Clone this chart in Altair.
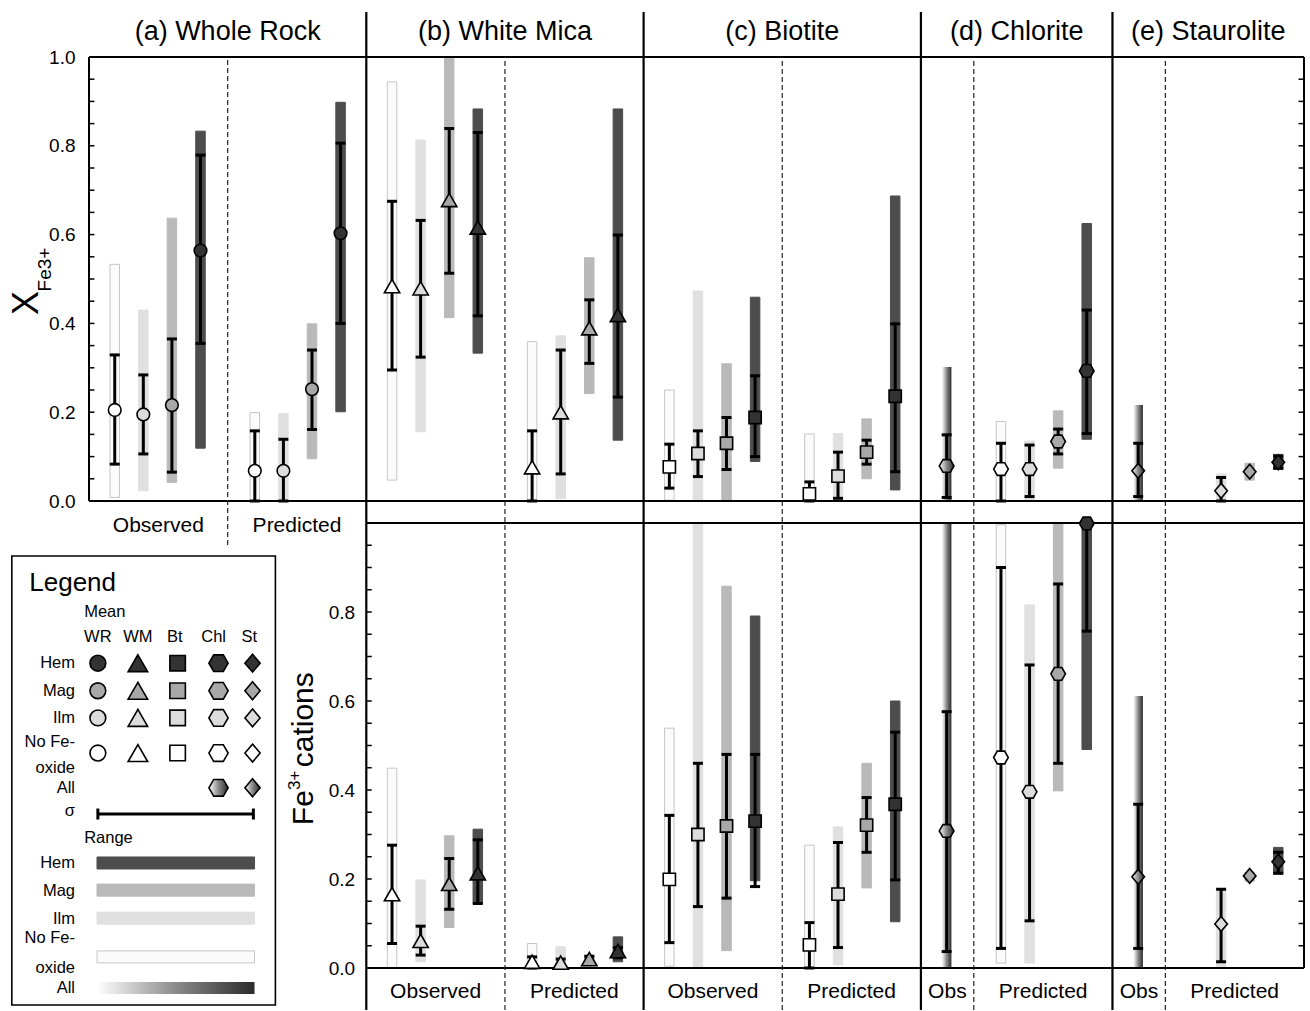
import altair as alt
import numpy as np
import pandas as pd

FONT = "Liberation Sans"

PANEL_TITLES = ["(a) Whole Rock", "(b) White Mica", "(c) Biotite", "(d) Chlorite", "(e) Staurolite"]
MINERALS = ["WR", "WM", "Bt", "Chl", "St"]
OXIDES = ["No Fe-oxide", "Ilm", "Mag", "Hem"]
OBS_NAMES = {"WR": "Observed", "WM": "Observed", "Bt": "Observed", "Chl": "Obs", "St": "Obs"}

# rows: (Fe-oxide assemblage, mean, mean - sigma, mean + sigma, range min, range max)
# ---- X_Fe3+ ----
WR_XFE_OBS = [
    ("No Fe-oxide", 0.205, 0.083, 0.329, 0.008, 0.533),
    ("Ilm", 0.195, 0.106, 0.284, 0.023, 0.430),
    ("Mag", 0.216, 0.065, 0.365, 0.042, 0.637),
    ("Hem", 0.564, 0.355, 0.779, 0.119, 0.833),
]
WR_XFE_PRED = [
    ("No Fe-oxide", 0.068, 0.0, 0.158, 0.0, 0.199),
    ("Ilm", 0.068, 0.0, 0.139, 0.0, 0.197),
    ("Mag", 0.252, 0.161, 0.340, 0.095, 0.399),
    ("Hem", 0.603, 0.400, 0.806, 0.201, 0.898),
]
WM_XFE_OBS = [
    ("No Fe-oxide", 0.484, 0.295, 0.675, 0.047, 0.944),
    ("Ilm", 0.479, 0.324, 0.632, 0.156, 0.813),
    ("Mag", 0.678, 0.513, 0.839, 0.413, 0.997),
    ("Hem", 0.616, 0.417, 0.830, 0.333, 0.883),
]
WM_XFE_PRED = [
    ("No Fe-oxide", 0.076, 0.0, 0.158, 0.0, 0.359),
    ("Ilm", 0.200, 0.061, 0.340, 0.005, 0.372),
    ("Mag", 0.389, 0.310, 0.453, 0.242, 0.548),
    ("Hem", 0.419, 0.234, 0.599, 0.137, 0.883),
]
BT_XFE_OBS = [
    ("No Fe-oxide", 0.077, 0.029, 0.128, 0.002, 0.250),
    ("Ilm", 0.107, 0.055, 0.158, 0.0, 0.473),
    ("Mag", 0.130, 0.071, 0.188, 0.0, 0.309),
    ("Hem", 0.188, 0.100, 0.282, 0.089, 0.459),
]
BT_XFE_PRED = [
    ("No Fe-oxide", 0.016, 0.0, 0.043, 0.0, 0.151),
    ("Ilm", 0.056, 0.006, 0.110, 0.0, 0.152),
    ("Mag", 0.110, 0.083, 0.137, 0.050, 0.185),
    ("Hem", 0.236, 0.066, 0.399, 0.025, 0.687),
]
CHL_XFE_OBS = [("All", 0.079, 0.008, 0.149, 0.0, 0.302)]
CHL_XFE_PRED = [
    ("No Fe-oxide", 0.072, 0.0, 0.130, 0.0, 0.179),
    ("Ilm", 0.072, 0.010, 0.126, 0.0, 0.135),
    ("Mag", 0.134, 0.106, 0.162, 0.074, 0.203),
    ("Hem", 0.293, 0.152, 0.430, 0.139, 0.625),
]
ST_XFE_OBS = [("All", 0.068, 0.010, 0.130, 0.0, 0.216)]
ST_XFE_PRED = [
    ("Ilm", 0.023, 0.0, 0.053, 0.0, 0.061),
    ("Mag", 0.066, None, None, 0.047, 0.085),
    ("Hem", 0.087, 0.074, 0.101, 0.071, 0.105),
]

# ---- Fe3+ cations ----
WM_CAT_OBS = [
    ("No Fe-oxide", 0.166, 0.055, 0.276, 0.0, 0.449),
    ("Ilm", 0.061, 0.029, 0.094, 0.014, 0.198),
    ("Mag", 0.189, 0.132, 0.246, 0.091, 0.297),
    ("Hem", 0.213, 0.145, 0.288, 0.145, 0.312),
]
WM_CAT_PRED = [
    ("No Fe-oxide", 0.014, 0.0, 0.025, 0.0, 0.055),
    ("Ilm", 0.012, 0.003, 0.020, 0.0, 0.048),
    ("Mag", 0.020, 0.015, 0.026, 0.012, 0.030),
    ("Hem", 0.038, 0.023, 0.046, 0.014, 0.070),
]
BT_CAT_OBS = [
    ("No Fe-oxide", 0.199, 0.057, 0.343, 0.004, 0.539),
    ("Ilm", 0.300, 0.138, 0.460, 0.0, 0.998),
    ("Mag", 0.319, 0.157, 0.480, 0.039, 0.858),
    ("Hem", 0.330, 0.183, 0.480, 0.196, 0.791),
]
BT_CAT_PRED = [
    ("No Fe-oxide", 0.052, 0.0, 0.102, 0.0, 0.276),
    ("Ilm", 0.166, 0.046, 0.282, 0.007, 0.317),
    ("Mag", 0.321, 0.260, 0.383, 0.180, 0.460),
    ("Hem", 0.368, 0.198, 0.530, 0.104, 0.600),
]
CHL_CAT_OBS = [("All", 0.308, 0.037, 0.576, 0.0, 1.0)]
CHL_CAT_PRED = [
    ("No Fe-oxide", 0.473, 0.044, 0.900, 0.011, 0.996),
    ("Ilm", 0.396, 0.106, 0.681, 0.011, 0.816),
    ("Mag", 0.661, 0.460, 0.863, 0.398, 1.0),
    ("Hem", 0.999, 0.757, 1.0, 0.491, 1.0),
]
ST_CAT_OBS = [("All", 0.205, 0.044, 0.368, 0.0, 0.611)]
ST_CAT_PRED = [
    ("Ilm", 0.099, 0.014, 0.177, 0.003, 0.175),
    ("Mag", 0.207, None, None, 0.195, 0.215),
    ("Hem", 0.239, 0.213, 0.260, 0.211, 0.271),
]

GROUPS = [
    ("top", "WR", "Observed", WR_XFE_OBS), ("top", "WR", "Predicted", WR_XFE_PRED),
    ("top", "WM", "Observed", WM_XFE_OBS), ("top", "WM", "Predicted", WM_XFE_PRED),
    ("top", "Bt", "Observed", BT_XFE_OBS), ("top", "Bt", "Predicted", BT_XFE_PRED),
    ("top", "Chl", "Observed", CHL_XFE_OBS), ("top", "Chl", "Predicted", CHL_XFE_PRED),
    ("top", "St", "Observed", ST_XFE_OBS), ("top", "St", "Predicted", ST_XFE_PRED),
    ("bot", "WM", "Observed", WM_CAT_OBS), ("bot", "WM", "Predicted", WM_CAT_PRED),
    ("bot", "Bt", "Observed", BT_CAT_OBS), ("bot", "Bt", "Predicted", BT_CAT_PRED),
    ("bot", "Chl", "Observed", CHL_CAT_OBS), ("bot", "Chl", "Predicted", CHL_CAT_PRED),
    ("bot", "St", "Observed", ST_CAT_OBS), ("bot", "St", "Predicted", ST_CAT_PRED),
]

# ---- styles ----
MEAN_FILL = {"No Fe-oxide": "#ffffff", "Ilm": "#dcdcdc", "Mag": "#a8a8a8", "Hem": "#333333"}
RANGE_FILL = {"No Fe-oxide": "#fbfbfb", "Ilm": "#e0e0e0", "Mag": "#b9b9b9", "Hem": "#4d4d4d"}
RANGE_EDGE = {"No Fe-oxide": "#c6c6c6", "Ilm": "#e0e0e0", "Mag": "#b9b9b9", "Hem": "#4d4d4d"}
HEXAGON = "M-1,0L-0.5,-0.866L0.5,-0.866L1,0L0.5,0.866L-0.5,0.866Z"
DIAMOND = "M0,-1L0.85,0L0,1L-0.85,0Z"
SHAPES = {"WR": "circle", "WM": "triangle-up", "Bt": "square", "Chl": HEXAGON, "St": DIAMOND}
SIZES = {"WR": 160, "WM": 235, "Bt": 150, "Chl": 215, "St": 220}
LEG_SIZES = {"WR": 250, "WM": 380, "Bt": 240, "Chl": 370, "St": 320}


def gradient():
    return alt.LinearGradient(
        gradient="linear",
        stops=[alt.GradientStop(color="#ffffff", offset=0),
               alt.GradientStop(color="#8a8a8a", offset=0.5),
               alt.GradientStop(color="#2b2b2b", offset=1)],
        x1=0, x2=1, y1=0, y2=0,
    )


# ---- category layout: one x unit per column ----
EDGE, GAP = 0.9, 1.9
N_OBS = {"WR": 4, "WM": 4, "Bt": 4, "Chl": 1, "St": 1}
starts, ends, dividers, obs_x, pred_x = {}, {}, {}, {}, {}
s = 0.0
for m in MINERALS:
    first = s + EDGE
    last_obs = first + N_OBS[m] - 1
    obs_x[m] = {ox: first + i for i, ox in enumerate(OXIDES)} if N_OBS[m] == 4 else {"All": first}
    pred_x[m] = {ox: last_obs + GAP + i for i, ox in enumerate(OXIDES)}
    dividers[m] = last_obs + GAP / 2
    starts[m] = s
    ends[m] = last_obs + GAP + 3 + EDGE
    s = ends[m]
X_MAX = s

# ---- plot geometry ----
PLOT_W = 1225
TOP_H, MID_H, BOT_H = 444, 22, 445
PLOT_H = TOP_H + MID_H + BOT_H
TOP_DOM = [1.0 - PLOT_H / TOP_H, 1.0]
BOT_DOM = [0.0, PLOT_H / BOT_H]
PX = PLOT_W / X_MAX
LINE_TOP = 1.0 + 45 / TOP_H                  # top end of the panel dividers
LINE_BOT = TOP_DOM[0] - 42 / TOP_H           # bottom end of the panel dividers
TICK = 0.19

rows = []
for panel, m, phase, table in GROUPS:
    pos = obs_x[m] if phase == "Observed" else pred_x[m]
    for ox, mean, slo, shi, rlo, rhi in table:
        rows.append(dict(panel=panel, mineral=m, phase=phase, oxide=ox, x=pos[ox],
                         mean=mean, slo=slo, shi=shi, rlo=rlo, rhi=rhi,
                         mfill=MEAN_FILL.get(ox, "#888888"),
                         rfill=RANGE_FILL.get(ox, "#888888"),
                         redge=RANGE_EDGE.get(ox, "#888888")))
df = pd.DataFrame(rows)


def X(field="x"):
    return alt.X(f"{field}:Q", scale=alt.Scale(domain=[0, X_MAX], nice=False, zero=False), axis=None)


def Y(field, panel, axis=None):
    dom = TOP_DOM if panel == "top" else BOT_DOM
    return alt.Y(f"{field}:Q", scale=alt.Scale(domain=dom, nice=False, zero=False), axis=axis)


def texts(frame, panel, **style):
    return alt.Chart(frame).mark_text(font=FONT, color="black", **style).encode(
        x=X("x"), y=Y("y", panel), text="text:N")


layers = []

# ---- ranges ----
for panel in ["top", "bot"]:
    d = df[df.panel == panel]
    reg = d[d.oxide != "All"]
    layers.append(alt.Chart(reg).mark_bar(orient="vertical", size=9.5, strokeWidth=1).encode(
        x=X("x"), y=Y("rlo", panel), y2="rhi",
        fill=alt.Fill("rfill:N", scale=None), stroke=alt.Stroke("redge:N", scale=None)))
    layers.append(alt.Chart(d[d.oxide == "All"]).mark_bar(
        orient="vertical", size=9.5, fill=gradient()).encode(
        x=X("x"), y=Y("rlo", panel), y2="rhi"))

# ---- frame, dividers, ticks ----
h_top = pd.DataFrame({"x": [0, 0], "x2": [X_MAX, X_MAX], "y": [0.0, 1.0]})
h_bot = pd.DataFrame({"x": [starts["WM"]] * 2, "x2": [X_MAX] * 2, "y": [0.0, 1.0]})
v_top = pd.DataFrame({"x": [0, X_MAX], "y": [0.0, TOP_DOM[0]], "y2": [1.0, 1.0]})
v_div = pd.DataFrame({"x": [starts[m] for m in MINERALS[1:]], "y": LINE_BOT, "y2": LINE_TOP})
dash = pd.DataFrame({"x": [dividers[m] for m in MINERALS],
                     "y": [-0.099] + [LINE_BOT] * 4, "y2": 1.0})

for frame, panel in [(h_top, "top"), (h_bot, "bot")]:
    layers.append(alt.Chart(frame).mark_rule(color="black", strokeWidth=2).encode(
        x=X("x"), x2="x2", y=Y("y", panel)))
layers.append(alt.Chart(v_top).mark_rule(color="black", strokeWidth=2).encode(
    x=X("x"), y=Y("y", "top"), y2="y2"))
layers.append(alt.Chart(v_div).mark_rule(color="black", strokeWidth=2.2).encode(
    x=X("x"), y=Y("y", "top"), y2="y2"))
layers.append(alt.Chart(dash).mark_rule(color="#222222", strokeWidth=1.2, strokeDash=[5, 3]).encode(
    x=X("x"), y=Y("y", "top"), y2="y2"))

tick_vals = np.round(np.arange(0, 1.0001, 0.05), 2)
top_ticks = pd.DataFrame({"y": np.concatenate([tick_vals, tick_vals]),
                          "x": [0.0] * 21 + [X_MAX - TICK] * 21,
                          "x2": [TICK] * 21 + [X_MAX] * 21})
bot_ticks = pd.DataFrame({"y": np.concatenate([tick_vals, tick_vals]),
                          "x": [starts["WM"]] * 21 + [X_MAX - TICK] * 21,
                          "x2": [starts["WM"] + TICK] * 21 + [X_MAX] * 21})
axis_style = dict(ticks=False, domain=False, grid=False, labelPadding=9, labelFontSize=19,
                  labelFont=FONT, labelColor="black", title=None, format=".1f", orient="left")
top_axis = alt.Axis(values=[0, 0.2, 0.4, 0.6, 0.8, 1.0], **axis_style)
bot_axis = alt.Axis(values=[0, 0.2, 0.4, 0.6, 0.8], offset=-starts["WM"] * PX, **axis_style)
layers.append(alt.Chart(top_ticks).mark_rule(color="black", strokeWidth=1.5).encode(
    x=X("x"), x2="x2", y=Y("y", "top", top_axis)))
layers.append(alt.Chart(bot_ticks).mark_rule(color="black", strokeWidth=1.5).encode(
    x=X("x"), x2="x2", y=Y("y", "bot", bot_axis)))

# ---- sigma bars and means ----
for panel in ["top", "bot"]:
    d = df[(df.panel == panel)].dropna(subset=["slo"])
    layers.append(alt.Chart(d).mark_rule(color="black", strokeWidth=3).encode(
        x=X("x"), y=Y("slo", panel), y2="shi"))
    for end in ["slo", "shi"]:
        layers.append(alt.Chart(d).mark_tick(
            orient="horizontal", size=10, thickness=3, color="black", opacity=1).encode(
            x=X("x"), y=Y(end, panel)))
for panel in ["top", "bot"]:
    d = df[df.panel == panel]
    for m in MINERALS:
        dm = d[(d.mineral == m) & (d.oxide != "All")]
        if len(dm):
            layers.append(alt.Chart(dm).mark_point(
                shape=SHAPES[m], size=SIZES[m], filled=True, opacity=1,
                stroke="black", strokeWidth=1.6).encode(
                x=X("x"), y=Y("mean", panel), fill=alt.Fill("mfill:N", scale=None)))
        da = d[(d.mineral == m) & (d.oxide == "All")]
        if len(da):
            layers.append(alt.Chart(da).mark_point(
                shape=SHAPES[m], size=SIZES[m], filled=True, opacity=1, fill=gradient(),
                stroke="black", strokeWidth=1.6).encode(x=X("x"), y=Y("mean", panel)))

# ---- titles and group labels ----
titles = pd.DataFrame({"text": PANEL_TITLES,
                       "x": [(starts[m] + ends[m]) / 2 for m in MINERALS], "y": 1.056})
layers.append(texts(titles, "top", fontSize=27, baseline="middle"))
top_groups = pd.DataFrame({"text": ["Observed", "Predicted"],
                           "x": [(starts["WR"] + dividers["WR"]) / 2, (dividers["WR"] + ends["WR"]) / 2],
                           "y": -0.056})
layers.append(texts(top_groups, "top", fontSize=21, baseline="middle"))
bot_groups = pd.DataFrame({
    "text": [t for m in MINERALS[1:] for t in (OBS_NAMES[m], "Predicted")],
    "x": [v for m in MINERALS[1:] for v in ((starts[m] + dividers[m]) / 2, (dividers[m] + ends[m]) / 2)],
    "y": -0.054})
layers.append(texts(bot_groups, "bot", fontSize=21, baseline="middle"))

# axis titles (rotated)
layers.append(texts(pd.DataFrame({"text": ["X"], "x": [-2.18], "y": [0.419]}), "top",
                    fontSize=36, angle=270, align="left", baseline="middle"))
layers.append(texts(pd.DataFrame({"text": ["Fe3+"], "x": [-1.55], "y": [0.472]}), "top",
                    fontSize=19, angle=270, align="left", baseline="middle"))
layers.append(texts(pd.DataFrame({"text": ["Fe", "cations"], "x": [7.53, 7.53], "y": [0.321, 0.451]}), "bot",
                    fontSize=30, angle=270, align="left", baseline="middle"))
layers.append(texts(pd.DataFrame({"text": ["3+"], "x": [7.2], "y": [0.400]}), "bot",
                    fontSize=17, angle=270, align="left", baseline="middle"))

# ---- legend panel ----
LEG_COLS = {"WR": 0.31, "WM": 1.71, "Bt": 3.10, "Chl": 4.53, "St": 5.72}
LEG_HEAD_X = {"WR": 0.31, "WM": 1.71, "Bt": 3.0, "Chl": 4.36, "St": 5.61}
LEG_ROWS = {"Hem": 0.685, "Mag": 0.623, "Ilm": 0.562, "No Fe-oxide": 0.483, "All": 0.405}
LABEL_X = -0.49

layers.append(alt.Chart(pd.DataFrame({"x": [-2.70], "x2": [6.52], "y": [-0.083], "y2": [0.926]}))
              .mark_rect(fill="white", stroke="black", strokeWidth=1.6)
              .encode(x=X("x"), x2="x2", y=Y("y", "bot"), y2="y2"))
layers.append(texts(pd.DataFrame({"text": ["Legend"], "x": [-2.09], "y": [0.865]}), "bot",
                    fontSize=26, align="left", baseline="middle"))
layers.append(texts(pd.DataFrame({"text": ["Mean", "Range"], "x": [-0.17, -0.17], "y": [0.800, 0.292]}), "bot",
                    fontSize=16.5, align="left", baseline="middle"))
layers.append(texts(pd.DataFrame({"text": MINERALS, "x": [LEG_HEAD_X[m] for m in MINERALS], "y": 0.744}),
                    "bot", fontSize=16.5, align="center", baseline="middle"))
row_labels = pd.DataFrame({
    "text": ["Hem", "Mag", "Ilm", "No Fe-", "oxide", "All", "σ",
             "Hem", "Mag", "Ilm", "No Fe-", "oxide", "All"],
    "y": [0.685, 0.623, 0.562, 0.508, 0.449, 0.405, 0.353,
          0.236, 0.173, 0.110, 0.067, 0.0, -0.045],
    "x": LABEL_X})
layers.append(texts(row_labels, "bot", fontSize=16.5, align="right", baseline="middle"))

leg_sym = pd.DataFrame([
    dict(mineral=m, oxide=ox, x=LEG_COLS[m], y=LEG_ROWS[ox], mfill=MEAN_FILL[ox])
    for m in MINERALS for ox in OXIDES])
for m in MINERALS:
    layers.append(alt.Chart(leg_sym[leg_sym.mineral == m]).mark_point(
        shape=SHAPES[m], size=LEG_SIZES[m], filled=True, opacity=1,
        stroke="black", strokeWidth=1.6).encode(
        x=X("x"), y=Y("y", "bot"), fill=alt.Fill("mfill:N", scale=None)))
    if m in ("Chl", "St"):
        layers.append(alt.Chart(pd.DataFrame({"x": [LEG_COLS[m]], "y": [LEG_ROWS["All"]]})).mark_point(
            shape=SHAPES[m], size=LEG_SIZES[m], filled=True, opacity=1, fill=gradient(),
            stroke="black", strokeWidth=1.6).encode(x=X("x"), y=Y("y", "bot")))

sig = pd.DataFrame({"x": [0.31], "x2": [5.75], "y": [0.346]})
layers.append(alt.Chart(sig).mark_rule(color="black", strokeWidth=3).encode(
    x=X("x"), x2="x2", y=Y("y", "bot")))
layers.append(alt.Chart(pd.DataFrame({"x": [0.31, 5.75], "y": [0.346, 0.346]})).mark_tick(
    orient="vertical", size=11, thickness=3, color="black", opacity=1).encode(
    x=X("x"), y=Y("y", "bot")))

swatch_y = {"Hem": 0.236, "Mag": 0.175, "Ilm": 0.112, "No Fe-oxide": 0.025}
sw = pd.DataFrame([dict(x=0.28, x2=5.79, y=swatch_y[ox] - 0.0135, y2=swatch_y[ox] + 0.0135,
                        rfill=RANGE_FILL[ox], redge=RANGE_EDGE[ox]) for ox in OXIDES])
layers.append(alt.Chart(sw).mark_rect(strokeWidth=1).encode(
    x=X("x"), x2="x2", y=Y("y", "bot"), y2="y2",
    fill=alt.Fill("rfill:N", scale=None), stroke=alt.Stroke("redge:N", scale=None)))
layers.append(alt.Chart(pd.DataFrame({"x": [0.28], "x2": [5.79], "y": [-0.0585], "y2": [-0.0315]}))
              .mark_rect(fill=gradient()).encode(x=X("x"), x2="x2", y=Y("y", "bot"), y2="y2"))

chart = (
    alt.layer(*layers)
    .resolve_scale(y="independent")
    .properties(
        width=PLOT_W, height=PLOT_H,
        autosize=alt.AutoSizeParams(type="none"),
        padding={"left": 84, "top": 57, "right": 1, "bottom": 43},
        background="white",
    )
    .configure_view(stroke=None)
)

chart.save("out.html", embed_options={"renderer": "svg", "actions": False})
